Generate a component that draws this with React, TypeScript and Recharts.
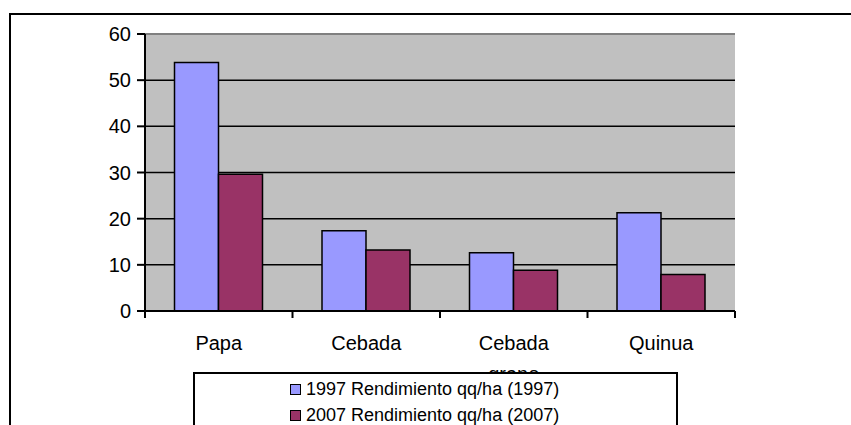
import React from 'react';
import { BarChart, Bar, XAxis, YAxis, CartesianGrid, ReferenceLine } from 'recharts';

const categories = ['Papa', 'Cebada', 'Cebada grano', 'Quinua'];
const rend1997 = [53.8, 17.4, 12.6, 21.3];
const rend2007 = [29.6, 13.2, 8.8, 7.9];
const yTicks = [0, 10, 20, 30, 40, 50, 60];
const seriesNames = ['1997 Rendimiento qq/ha (1997)', '2007 Rendimiento qq/ha (2007)'];
const seriesColors = ['#9999FF', '#993366'];

const data = categories.map((name, i) => ({ name, r1997: rend1997[i], r2007: rend2007[i] }));

const FONT = '"Liberation Sans", Arial, sans-serif';

// label plus tick marks on the category boundaries (Excel style)
const CategoryTick = (props: any) => {
  const { x, y, payload, index } = props;
  const half = payload.offset || 0;
  const words: string[] = payload.value.length > 10 ? payload.value.split(' ') : [payload.value];
  const isLast = index === categories.length - 1;
  return (
    <g>
      <line x1={x - half} x2={x - half} y1={y} y2={y + 7} stroke="#000" strokeWidth={2} />
      {isLast && <line x1={x + half} x2={x + half} y1={y} y2={y + 7} stroke="#000" strokeWidth={2} />}
      <text x={x} y={y} textAnchor="middle" fontFamily={FONT} fontSize={20} fill="#000">
        {words.map((w, i) => (
          <tspan key={i} x={x} dy={i === 0 ? 39 : 31}>{w}</tspan>
        ))}
      </text>
    </g>
  );
};

export default function App() {
  return (
    <div style={{ position: 'relative', width: 851, height: 425, overflow: 'hidden', background: '#fff' }}>
      <style>{'body{margin:0;overflow:hidden}'}</style>
      <div style={{ position: 'absolute', left: 9, top: 13, width: 900, height: 500, border: '2px solid #000' }} />
      <div style={{ position: 'absolute', left: 0, top: 0 }}>
        <BarChart
          width={851}
          height={425}
          data={data}
          margin={{ top: 34, right: 116, left: 85, bottom: 54 }}
          barCategoryGap="20%"
          barGap={0}
        >
          <CartesianGrid vertical={false} stroke="#000" strokeWidth={1.5} fill="#C0C0C0" fillOpacity={1} />
          <XAxis
            dataKey="name"
            height={60}
            axisLine={{ stroke: '#000', strokeWidth: 2 }}
            tickLine={false}
            tickSize={0}
            tickMargin={0}
            interval={0}
            tick={<CategoryTick />}
          />
          <YAxis
            domain={[0, 60]}
            ticks={yTicks}
            width={60}
            axisLine={{ stroke: '#000', strokeWidth: 2 }}
            tickLine={{ stroke: '#000', strokeWidth: 2 }}
            tickSize={8}
            tickMargin={6}
            tick={{ fill: '#000', fontSize: 20, fontFamily: FONT }}
          />
          <YAxis
            yAxisId="right"
            orientation="right"
            domain={[0, 60]}
            width={0}
            tick={false}
            tickLine={false}
            axisLine={{ stroke: '#808080', strokeWidth: 2 }}
          />
          <ReferenceLine y={60} stroke="#808080" strokeWidth={2} />
          <Bar dataKey="r1997" name={seriesNames[0]} fill={seriesColors[0]} stroke="#000" strokeWidth={1.5} isAnimationActive={false} />
          <Bar dataKey="r2007" name={seriesNames[1]} fill={seriesColors[1]} stroke="#000" strokeWidth={1.5} isAnimationActive={false} />
        </BarChart>
      </div>
      <div
        style={{
          position: 'absolute',
          left: 193,
          top: 372,
          width: 481,
          height: 80,
          border: '2px solid #000',
          background: '#fff',
          fontFamily: FONT,
          fontSize: 18,
          color: '#000',
        }}
      >
        {seriesNames.map((n, i) => (
          <div key={n} style={{ position: 'absolute', left: 95, top: 3 + i * 26, height: 24, display: 'flex', alignItems: 'center', whiteSpace: 'nowrap' }}>
            <span style={{ display: 'inline-block', width: 9, height: 9, background: seriesColors[i], border: '1.5px solid #000', marginRight: 5 }} />
            <span>{n}</span>
          </div>
        ))}
      </div>
    </div>
  );
}
